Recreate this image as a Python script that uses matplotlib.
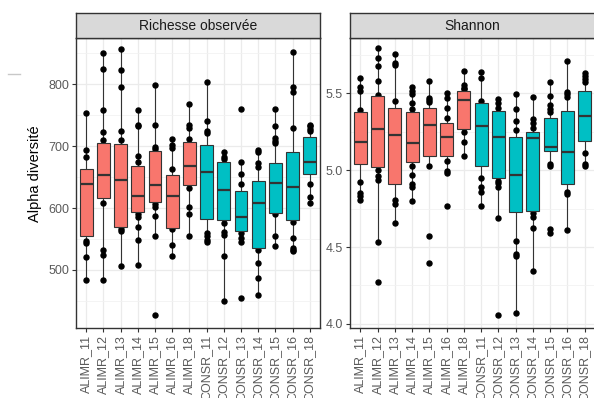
import matplotlib.pyplot as plt
from matplotlib.lines import Line2D
import numpy as np

plt.rcParams['font.family'] = ['Liberation Sans', 'DejaVu Sans']

groups = ['ALIMR_11', 'ALIMR_12', 'ALIMR_13', 'ALIMR_14', 'ALIMR_15', 'ALIMR_16', 'ALIMR_18',
          'CONSR_11', 'CONSR_12', 'CONSR_13', 'CONSR_14', 'CONSR_15', 'CONSR_16', 'CONSR_18']
colors = ['#F8766D'] * 7 + ['#00BFC4'] * 7

rich_q1 = [554, 617, 569, 594, 610, 568, 637, 582, 580, 563, 535, 592, 581, 655]
rich_med = [639, 654, 645, 620, 638, 619, 668, 659, 629, 586, 608, 640, 634, 675]
rich_q3 = [663, 705, 703, 668, 692, 654, 706, 702, 674, 628, 644, 673, 690, 715]
rich_lo = [484, 484, 506, 508, 555, 522, 554, 545, 450, 545, 459, 539, 530, 608]
rich_hi = [753, 850, 858, 759, 799, 711, 769, 804, 691, 674, 694, 760, 853, 735]
rich_pts = [
    [753, 694, 682, 547, 543, 521, 484],
    [850, 825, 759, 723, 710, 608, 532, 524, 484],
    [858, 823, 795, 725, 710, 566, 563, 506],
    [759, 735, 732, 684, 674, 591, 585, 570, 548, 508],
    [799, 734, 699, 696, 606, 602, 587, 555, 427],
    [711, 702, 697, 663, 566, 540, 522],
    [769, 735, 729, 712, 633, 602, 590, 554],
    [804, 740, 725, 721, 560, 554, 548, 545],
    [691, 683, 680, 576, 562, 556, 522, 450],
    [760, 674, 655, 639, 559, 551, 545, 454],
    [694, 690, 673, 667, 532, 511, 487, 459],
    [760, 732, 713, 708, 705, 590, 554, 539],
    [853, 795, 788, 729, 578, 552, 535, 532, 530],
    [735, 732, 728, 724, 639, 618, 608],
]

# Shannon
shan_q1 = [5.039, 5.019, 4.910, 5.050, 5.095, 5.095, 5.268, 5.028, 4.948, 4.730, 4.734, 5.125, 4.911, 5.190]
shan_med = [5.186, 5.268, 5.229, 5.180, 5.294, 5.219, 5.456, 5.290, 5.214, 4.966, 5.208, 5.154, 5.121, 5.353]
shan_q3 = [5.381, 5.483, 5.402, 5.377, 5.407, 5.305, 5.517, 5.435, 5.385, 5.219, 5.251, 5.338, 5.385, 5.515]
shan_lo = [4.805, 4.535, 4.654, 4.801, 5.030, 4.981, 5.089, 4.768, 4.690, 4.069, 4.346, 5.024, 4.610, 5.024]
shan_hi = [5.599, 5.794, 5.753, 5.543, 5.580, 5.500, 5.647, 5.641, 5.461, 5.494, 5.478, 5.571, 5.710, 5.634]
shan_pts = [
    [5.599, 5.543, 5.517, 5.392, 4.922, 4.849, 4.831, 4.805],
    [5.794, 5.732, 5.678, 5.583, 5.489, 5.002, 4.959, 4.933, 4.535, 4.271],
    [5.753, 5.695, 5.684, 5.452, 4.805, 4.779, 4.654],
    [5.543, 5.517, 5.494, 5.435, 5.396, 5.028, 4.970, 4.909, 4.888, 4.801],
    [5.580, 5.472, 5.456, 5.442, 5.030, 4.573, 4.398],
    [5.500, 5.472, 5.402, 5.338, 5.060, 4.995, 4.981, 4.766],
    [5.647, 5.554, 5.537, 5.528, 5.251, 5.186, 5.089],
    [5.641, 5.602, 5.450, 4.946, 4.891, 4.859, 4.768],
    [5.461, 5.435, 5.407, 4.927, 4.918, 4.891, 4.690, 4.058],
    [5.494, 5.398, 5.320, 5.262, 4.541, 4.455, 4.442, 4.069],
    [5.478, 5.331, 5.305, 5.277, 4.719, 4.693, 4.622, 4.346],
    [5.571, 5.485, 5.424, 5.398, 5.377, 5.039, 5.024, 4.615, 4.589],
    [5.710, 5.511, 5.494, 5.478, 4.859, 4.844, 4.610],
    [5.634, 5.615, 5.593, 5.576, 5.110, 5.039, 5.024],
]

W, H = 594, 398
fig = plt.figure(figsize=(W / 100, H / 100), dpi=100)


def panel(x0, x1, title, q1, med, q3, lo, hi, pts, ylim, major, minor, fmt):
    top, bot = 38, 328
    ax = fig.add_axes([x0 / W, 1 - bot / H, (x1 - x0) / W, (bot - top) / H])
    pos = np.arange(1, len(groups) + 1)
    for p, vals in zip(pos, pts):
        ax.plot([p] * len(vals), vals, 'o', color='black', ms=3.6, mec='black', zorder=2)
    stats = [dict(q1=a, med=m, q3=b, whislo=l, whishi=h, fliers=[])
             for a, m, b, l, h in zip(q1, med, q3, lo, hi)]
    bp = ax.bxp(stats, positions=pos, widths=0.75, patch_artist=True, showcaps=False,
                showfliers=False, manage_ticks=False,
                boxprops=dict(edgecolor='#333333', linewidth=0.8),
                whiskerprops=dict(color='#333333', linewidth=0.8),
                medianprops=dict(color='#333333', linewidth=1.6))
    for box, c in zip(bp['boxes'], colors):
        box.set_facecolor(c)
        box.set_zorder(3)
    for w in bp['whiskers']:
        w.set_zorder(1.5)
    for m in bp['medians']:
        m.set_zorder(4)
    ax.set_xlim(0.4, 14.6)
    ax.set_ylim(*ylim)
    ax.set_xticks(pos)
    ax.set_xticklabels(groups, rotation=90)
    ax.set_yticks(major)
    ax.set_yticklabels([fmt % v for v in major])
    ax.set_yticks(minor, minor=True)
    ax.tick_params(which='minor', length=0)
    ax.tick_params(which='major', length=3, width=0.8, color='#333333',
                   labelcolor='#5a5a5a', labelsize=9, pad=2)
    ax.grid(which='major', color='#EBEBEB', linewidth=0.9, zorder=0)
    ax.grid(which='minor', axis='y', color='#F2F2F2', linewidth=0.6, zorder=0)
    ax.set_axisbelow(True)
    for s in ax.spines.values():
        s.set_color('#333333')
        s.set_linewidth(1.0)
    # strip
    st = fig.add_axes([x0 / W, 1 - top / H, (x1 - x0) / W, 25 / H])
    st.set_facecolor('#D9D9D9')
    st.set_xticks([])
    st.set_yticks([])
    for s in st.spines.values():
        s.set_color('#333333')
        s.set_linewidth(1.0)
    st.text(0.5, 0.5, title, ha='center', va='center', fontsize=10, color='#1A1A1A',
            transform=st.transAxes)
    return ax


panel(76, 320, 'Richesse observée', rich_q1, rich_med, rich_q3, rich_lo, rich_hi, rich_pts,
      (406, 875), [500, 600, 700, 800], [450, 550, 650, 750, 850], '%d')
panel(350, 595, 'Shannon', shan_q1, shan_med, shan_q3, shan_lo, shan_hi, shan_pts,
      (3.973, 5.86), [4.0, 4.5, 5.0, 5.5], [4.25, 4.75, 5.25, 5.75], '%.1f')

fig.text(35 / W, 1 - 174 / H, 'Alpha diversité', rotation=90, ha='center', va='center',
         fontsize=10.5, color='black')
fig.add_artist(Line2D([8 / W, 20 / W], [1 - 74 / H, 1 - 74 / H], color='#c8c8c8', lw=1))

fig.savefig('out.png', dpi=100)
